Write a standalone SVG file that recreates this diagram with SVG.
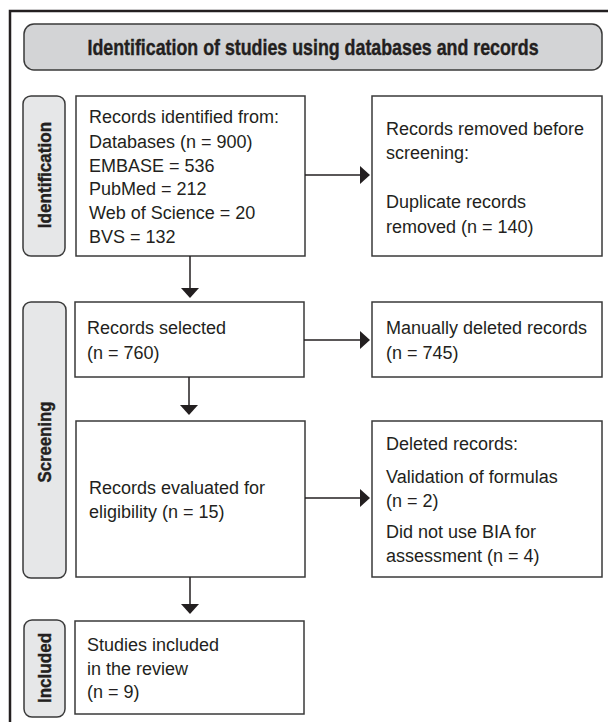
<svg xmlns="http://www.w3.org/2000/svg" width="608" height="722" viewBox="0 0 608 722">
<style>
.box{fill:#fff;stroke:#3a3a3a;stroke-width:1.5}
.lab{fill:#e6e7e8;stroke:#3a3a3a;stroke-width:1.5}
.hdr{fill:#d3d4d6;stroke:#3a3a3a;stroke-width:1.5}
.t{font-family:"Liberation Sans",Arial,sans-serif;font-size:18px;fill:#231f20}
.b{font-family:"Liberation Sans",Arial,sans-serif;font-weight:bold;fill:#231f20;stroke:#231f20;stroke-width:0.4}
.ln{stroke:#231f20;stroke-width:1.5;fill:none}
.ah{fill:#231f20}
</style>
<path d="M608,11 H10 V722" fill="none" stroke="#231f20" stroke-width="2.5"/>
<g id="header">
<rect class="hdr" x="24" y="24" width="578" height="46" rx="10"/>
<text class="b" x="0" y="0" font-size="22" text-anchor="middle" transform="translate(313,55) scale(0.81,1)">Identification of studies using databases and records</text>
</g>
<g id="lab-identification">
<rect class="lab" x="23" y="96" width="42" height="160" rx="8"/>
<text class="b" font-size="19" text-anchor="middle" transform="translate(51,175) rotate(-90) scale(0.9,1)">Identification</text>
</g>
<g id="lab-screening">
<rect class="lab" x="23" y="302" width="43" height="276" rx="8"/>
<text class="b" font-size="19" text-anchor="middle" transform="translate(51,442) rotate(-90) scale(0.88,1)">Screening</text>
</g>
<g id="lab-included">
<rect class="lab" x="24" y="620" width="41" height="97" rx="8"/>
<text class="b" font-size="19" text-anchor="middle" transform="translate(51,668) rotate(-90) scale(0.9,1)">Included</text>
</g>
<g id="n-identified">
<rect class="box" x="76" y="96" width="229" height="160"/>
<text class="t" x="89" y="123">Records identified from:</text>
<text class="t" x="89" y="148">Databases (n = 900)</text>
<text class="t" x="89" y="172">EMBASE = 536</text>
<text class="t" x="89" y="195">PubMed = 212</text>
<text class="t" x="89" y="219">Web of Science = 20</text>
<text class="t" x="89" y="243">BVS = 132</text>
</g>
<g id="n-removed">
<rect class="box" x="372" y="96" width="230" height="160"/>
<text class="t" x="386" y="135">Records removed before</text>
<text class="t" x="386" y="159">screening:</text>
<text class="t" x="386" y="208">Duplicate records</text>
<text class="t" x="386" y="233">removed (n = 140)</text>
</g>
<g id="n-selected">
<rect class="box" x="75" y="302" width="229" height="75"/>
<text class="t" x="87" y="334">Records selected</text>
<text class="t" x="87" y="359">(n = 760)</text>
</g>
<g id="n-manual">
<rect class="box" x="372" y="302" width="230" height="75"/>
<text class="t" x="386" y="334">Manually deleted records</text>
<text class="t" x="386" y="359">(n = 745)</text>
</g>
<g id="n-eligibility">
<rect class="box" x="76" y="421" width="229" height="156"/>
<text class="t" x="89" y="494">Records evaluated for</text>
<text class="t" x="89" y="518">eligibility (n = 15)</text>
</g>
<g id="n-deleted">
<rect class="box" x="372" y="421" width="230" height="156"/>
<text class="t" x="386" y="450">Deleted records:</text>
<text class="t" x="386" y="483">Validation of formulas</text>
<text class="t" x="386" y="507">(n = 2)</text>
<text class="t" x="386" y="538">Did not use BIA for</text>
<text class="t" x="386" y="562">assessment (n = 4)</text>
</g>
<g id="n-included">
<rect class="box" x="75" y="621" width="229" height="93"/>
<text class="t" x="87" y="651">Studies included</text>
<text class="t" x="87" y="675">in the review</text>
<text class="t" x="87" y="698">(n = 9)</text>
</g>
<g id="connectors">
<path class="ln" d="M305,175 H360"/>
<polygon class="ah" points="360,166 370,175 360,184"/>
<path class="ln" d="M190,256 V288"/>
<polygon class="ah" points="181,288 199,288 190,298"/>
<path class="ln" d="M304,340 H360"/>
<polygon class="ah" points="360,331 370,340 360,349"/>
<path class="ln" d="M189,377 V405"/>
<polygon class="ah" points="180,405 198,405 189,415"/>
<path class="ln" d="M305,498 H360"/>
<polygon class="ah" points="360,489 370,498 360,507"/>
<path class="ln" d="M190,577 V604"/>
<polygon class="ah" points="181,604 199,604 190,614"/>
</g>
</svg>
